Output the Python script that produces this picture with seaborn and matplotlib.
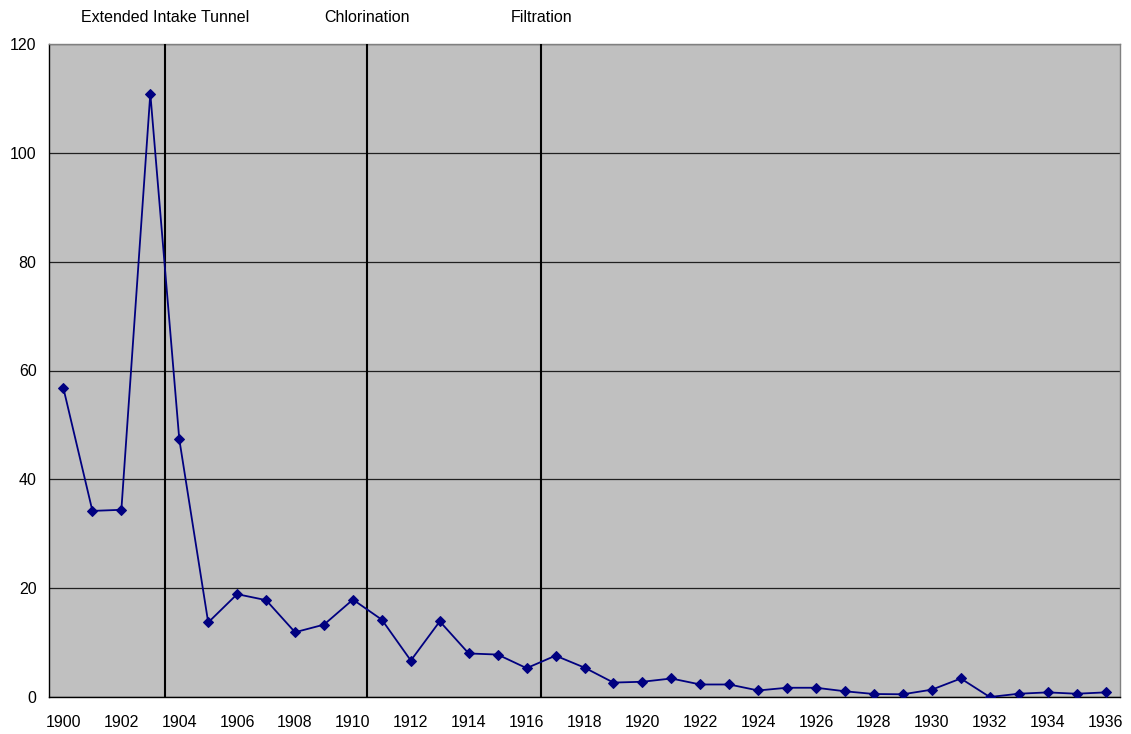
import matplotlib
matplotlib.use("Agg")
import numpy as np
import pandas as pd
import seaborn as sns
from matplotlib import pyplot as plt
from matplotlib.ticker import MultipleLocator

# values
years = list(range(1900, 1937))
rates = [56.7, 34.2, 34.4, 110.9, 47.4, 13.7, 18.9, 17.8, 11.9, 13.3,
         17.9, 14.2, 6.7, 13.9, 8.0, 7.8, 5.3, 7.6, 5.4, 2.65,
         2.8, 3.4, 2.3, 2.3, 1.2, 1.7, 1.7, 1.05, 0.55, 0.5,
         1.35, 3.4, 0.0, 0.6, 0.85, 0.6, 0.85]
event_names = ["Extended Intake Tunnel", "Chlorination", "Filtration"]
event_pos = [1903.5, 1910.5, 1916.5]

df = pd.DataFrame({"year": years, "rate": rates})

sns.set_style("white")
plt.rcParams["font.family"] = ["Liberation Sans", "DejaVu Sans"]
plt.rcParams["text.color"] = "black"
plt.rcParams["xtick.color"] = "black"
plt.rcParams["ytick.color"] = "black"

fig = plt.figure(figsize=(11.31, 7.34), dpi=100)
ax = fig.add_axes([49 / 1131, 1 - 697 / 734, (1120 - 49) / 1131, (697 - 44) / 734])
ax.set_facecolor("#C0C0C0")

sns.lineplot(data=df, x="year", y="rate", ax=ax, color="#000080", lw=1.3,
             marker="D", markersize=5.5, markeredgecolor="#000080", zorder=5)

ax.set_xlim(1899.5, 1936.5)
ax.set_ylim(0, 120)
ax.yaxis.set_major_locator(MultipleLocator(20))
ax.set_xticks(list(range(1900, 1937, 2)))
ax.set_xticks(np.arange(1899.5, 1937, 1), minor=True)
ax.tick_params(axis="x", which="major", length=0, pad=13, labelsize=11.5)
ax.tick_params(axis="x", which="minor", length=5, width=1, direction="out")
ax.tick_params(axis="y", which="major", length=5, width=1, direction="out", labelsize=11.5, pad=4)
ax.grid(axis="y", color="#202020", lw=0.9)
ax.set_axisbelow(True)

for pos, name in zip(event_pos, event_names):
    ax.axvline(pos, color="black", lw=1.5, zorder=3)
    ax.text(pos, 1.04, name, transform=ax.get_xaxis_transform(), ha="center", va="center", fontsize=11.5)

ax.set_xlabel("")
ax.set_ylabel("")
for side in ["top", "right"]:
    ax.spines[side].set_color("#808080")
for side in ["left", "bottom"]:
    ax.spines[side].set_color("black")
for s in ax.spines.values():
    s.set_visible(True)
    s.set_linewidth(1)

fig.savefig("out.png", dpi=100)
